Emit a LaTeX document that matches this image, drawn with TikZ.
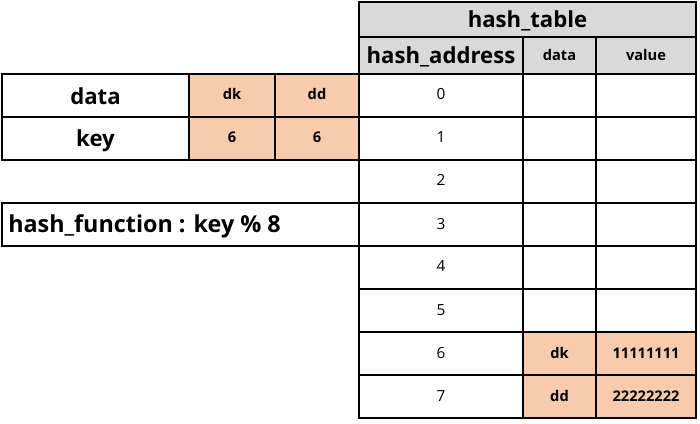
\documentclass[tikz,border=0pt]{standalone}
\usepackage{fontspec}
\setmainfont{Open Sans}
\definecolor{peach}{HTML}{F8CBAD}
\definecolor{hdr}{HTML}{D9D9D9}
\begin{document}
\begin{tikzpicture}[x=0.75pt,y=-0.75pt,
  thinline/.style={line width=0.8pt},
  thickline/.style={line width=1.8pt},
  big/.style={font=\fontsize{16.6}{20}\selectfont\bfseries, inner sep=0pt, anchor=base},
  small/.style={font=\fontsize{11}{13}\selectfont\bfseries, inner sep=0pt, anchor=base},
  num/.style={font=\fontsize{11.5}{13}\selectfont, inner sep=0pt, anchor=base}]
\useasboundingbox[fill=white] (0,0) rectangle (700,424);
% fills
\fill[hdr] (359,2) rectangle (696,74);
\fill[peach] (189,74) rectangle (359,160);
\fill[peach] (523,332) rectangle (696,418);
% thin grid of hash table
\foreach \y in {74,117,160,203,246,289,332,375}
  \draw[thinline] (359,\y) -- (696,\y);
\draw[thinline] (596,37) -- (596,418);
% thin grid of left table
\draw[thinline] (189,74) -- (359,74);
\draw[thinline] (2,117) -- (359,117);
\draw[thinline] (189,160) -- (359,160);
\draw[thinline] (275,74) -- (275,160);
% thick lines
\draw[thickline] (2,74) rectangle (189,160);
\draw[thickline] (359,203) -- (2,203) -- (2,246) -- (359,246);
\draw[thickline] (359,2) rectangle (696,418);
\draw[thickline] (359,37) -- (696,37);
\draw[thickline] (523,37) -- (523,418);
% header texts
\node[big] (title) at (527.5,27.5) {hash\_table};
\node[big] (addr) at (441,63.5) {hash\_address};
\node[small] (hdata) at (559.5,61) {data};
\node[small] (hvalue) at (646,61) {value};
% address numbers
\foreach \i in {0,...,7}
  \node[num] (a\i) at (441,{100+43*\i}) {\i};
% stored entries
\node[small] (d6) at (559.5,358) {dk};
\node[small] (v6) at (646,358) {11111111};
\node[small] (d7) at (559.5,401) {dd};
\node[small] (v7) at (646,401) {22222222};
% left table
\node[big] (ldata) at (95.5,104.5) {data};
\node[big] (lkey) at (95.5,147) {key};
\node[small] (dk) at (232,100) {dk};
\node[small] (dd) at (317,100) {dd};
\node[small] (k1) at (232,143) {6};
\node[small] (k2) at (317,143) {6};
% hash function
\node[big, font=\fontsize{17.5}{20}\selectfont\bfseries, anchor=base west] (hf) at (8,233) {hash\_function : key \% 8};
\end{tikzpicture}
\end{document}
